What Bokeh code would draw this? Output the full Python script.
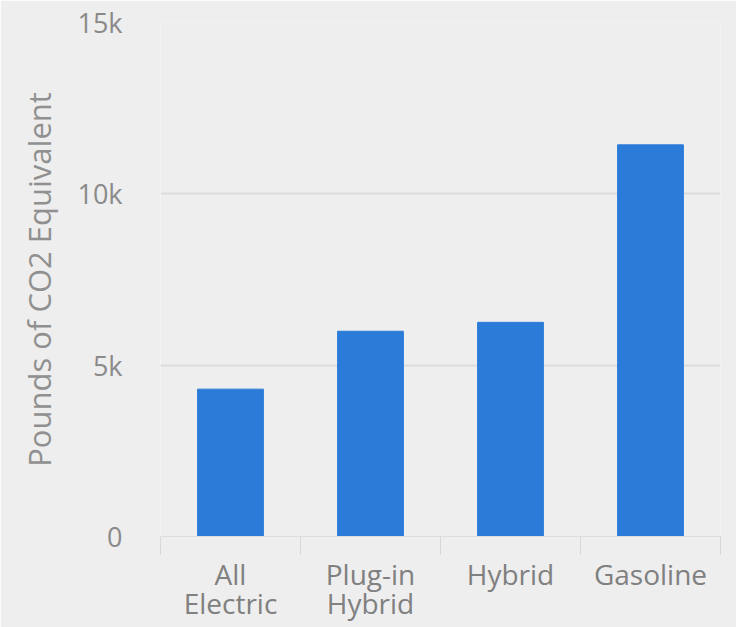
from bokeh.plotting import figure
from bokeh.models import Range1d, FixedTicker, ColumnDataSource
from bokeh.embed import file_html
from bokeh.resources import INLINE

# Annual emissions per vehicle type
categories = ["All\nElectric", "Plug-in\nHybrid", "Hybrid", "Gasoline"]
emissions = [4300, 5990, 6250, 11430]
y_ticks = [0, 5000, 10000, 15000]
y_tick_labels = ["0", "5k", "10k", "15k"]

BG = "#eeeeee"
FONT = "Open Sans"

centers = [i + 0.5 for i in range(len(categories))]
source = ColumnDataSource(dict(x=centers, top=emissions))

p = figure(width=736, height=627, output_backend="svg",
           toolbar_location=None,
           x_range=Range1d(0, len(categories)), y_range=Range1d(0, 15000),
           min_border_left=160, min_border_right=16, min_border_top=22,
           min_border_bottom=91)
p.background_fill_color = BG
p.border_fill_color = BG
p.outline_line_color = None

p.vbar(x="x", top="top", width=0.47, source=source, color="#2b7bd8")

# x axis: labels at category centres, divider ticks at category edges
p.xaxis.ticker = FixedTicker(ticks=centers,
                             minor_ticks=list(range(len(categories) + 1)))
p.xaxis.major_label_overrides = {c: lab for c, lab in zip(centers, categories)}
p.xaxis.major_tick_out = 0
p.xaxis.major_tick_in = 0
p.xaxis.minor_tick_out = 18
p.xaxis.minor_tick_in = 0
p.xaxis.minor_tick_line_color = "#d8d8d8"
p.xaxis.axis_line_color = "#dddddd"
p.xaxis.major_label_text_font = FONT
p.xaxis.major_label_text_font_size = "28px"
p.xaxis.major_label_text_line_height = 0.78
p.xaxis.major_label_text_color = "#808080"
p.xaxis.major_label_standoff = 0
p.xgrid.grid_line_color = None

# y axis
p.yaxis.ticker = FixedTicker(ticks=y_ticks)
p.yaxis.major_label_overrides = {t: l for t, l in zip(y_ticks, y_tick_labels)}
p.yaxis.axis_line_color = None
p.yaxis.major_tick_line_color = None
p.yaxis.minor_tick_line_color = None
p.yaxis.major_label_standoff = 32
p.yaxis.major_label_text_font = FONT
p.yaxis.major_label_text_font_size = "27px"
p.yaxis.major_label_text_color = "#8a8a8a"
p.yaxis.axis_label = "Pounds of CO2 Equivalent"
p.yaxis.axis_label_text_font = FONT
p.yaxis.axis_label_text_font_size = "31px"
p.yaxis.axis_label_text_font_style = "normal"
p.yaxis.axis_label_text_color = "#909090"
p.yaxis.axis_label_standoff = 14
p.ygrid.grid_line_color = "#dcdcdc"
p.ygrid.grid_line_width = 2

open("out.html", "w").write(file_html(p, INLINE))
